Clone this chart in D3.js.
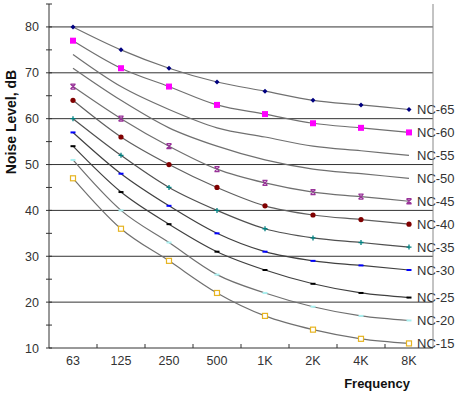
<!DOCTYPE html>
<html>
<head>
<meta charset="utf-8">
<script src="https://cdn.jsdelivr.net/npm/d3@7"></script>
<style>
  body { margin: 0; background: #fff; }
  svg { display: block; font-family: "Liberation Sans", Arial, sans-serif; }
</style>
</head>
<body>
<svg id="chart" width="465" height="396"></svg>
<script>
const frequencies = ['63', '125', '250', '500', '1K', '2K', '4K', '8K'];
const yTicks = [10, 20, 30, 40, 50, 60, 70, 80];

const nc65 = [80, 75, 71, 68, 66, 64, 63, 62];
const nc60 = [77, 71, 67, 63, 61, 59, 58, 57];
const nc55 = [74, 67, 62, 58, 56, 54, 53, 52];
const nc50 = [71, 64, 58, 54, 51, 49, 48, 47];
const nc45 = [67, 60, 54, 49, 46, 44, 43, 42];
const nc40 = [64, 56, 50, 45, 41, 39, 38, 37];
const nc35 = [60, 52, 45, 40, 36, 34, 33, 32];
const nc30 = [57, 48, 41, 35, 31, 29, 28, 27];
const nc25 = [54, 44, 37, 31, 27, 24, 22, 21];
const nc20 = [51, 40, 33, 26, 22, 19, 17, 16];
const nc15 = [47, 36, 29, 22, 17, 14, 12, 11];

// marker + line styling per curve
const curves = [
  {name: 'NC-65', values: nc65, marker: 'diamond', color: '#000080', line: '#707070'},
  {name: 'NC-60', values: nc60, marker: 'square', color: '#ff00ff', line: '#707070'},
  {name: 'NC-55', values: nc55, marker: null, color: null, line: '#707070'},
  {name: 'NC-50', values: nc50, marker: null, color: null, line: '#707070'},
  {name: 'NC-45', values: nc45, marker: 'star', color: '#993399', line: '#707070'},
  {name: 'NC-40', values: nc40, marker: 'circle', color: '#800000', line: '#606060'},
  {name: 'NC-35', values: nc35, marker: 'plus', color: '#008080', line: '#505050'},
  {name: 'NC-30', values: nc30, marker: 'dash', color: '#0000ff', line: '#404040'},
  {name: 'NC-25', values: nc25, marker: 'dash', color: '#000000', line: '#404040'},
  {name: 'NC-20', values: nc20, marker: 'dash', color: '#aaf0f0', line: '#707070'},
  {name: 'NC-15', values: nc15, marker: 'hollow', color: '#e6b422', line: '#707070'}
];

const svg = d3.select('#chart');
const margin = {left: 49, right: 433, top: 4, bottom: 348};

let x = d3.scaleBand().domain(frequencies).range([margin.left, margin.right]);
let y = d3.scaleLinear().domain([10, 85]).range([margin.bottom, margin.top]);
let cx = (f) => x(f) + x.bandwidth() / 2;

// gridlines
svg.append('g')
  .selectAll('line')
  .data(yTicks.filter(t => t > 10))
  .enter()
  .append('line')
  .attr('x1', margin.left).attr('x2', margin.right)
  .attr('y1', d => y(d)).attr('y2', d => y(d))
  .attr('stroke', '#333').attr('stroke-width', 1);

// curves
let line = d3.line()
  .x((d, i) => cx(frequencies[i]))
  .y(d => y(d))
  .curve(d3.curveMonotoneX);

let g = svg.append('g');
curves.forEach(c => {
  g.append('path')
    .attr('d', line(c.values))
    .attr('fill', 'none')
    .attr('stroke', c.line)
    .attr('stroke-width', 1.2);
});

// markers
curves.forEach(c => {
  if (!c.marker) return;
  let mg = g.append('g');
  c.values.forEach((v, i) => {
    let px = cx(frequencies[i]), py = y(v);
    if (c.marker === 'diamond') {
      mg.append('path').attr('d', `M${px},${py-2.5}L${px+2.5},${py}L${px},${py+2.5}L${px-2.5},${py}Z`).attr('fill', c.color);
    } else if (c.marker === 'square') {
      mg.append('rect').attr('x', px-3).attr('y', py-3).attr('width', 6).attr('height', 6).attr('fill', c.color);
    } else if (c.marker === 'hollow') {
      mg.append('rect').attr('x', px-2.5).attr('y', py-2.5).attr('width', 5).attr('height', 5)
        .attr('fill', '#fff').attr('stroke', c.color).attr('stroke-width', 1.2);
    } else if (c.marker === 'circle') {
      mg.append('circle').attr('cx', px).attr('cy', py).attr('r', 2.6).attr('fill', c.color);
    } else if (c.marker === 'plus') {
      mg.append('path').attr('d', `M${px-2.5},${py}H${px+2.5}M${px},${py-2.5}V${py+2.5}`).attr('stroke', c.color).attr('stroke-width', 1.3);
    } else if (c.marker === 'star') {
      mg.append('path').attr('d', `M${px-2.5},${py-2.5}L${px+2.5},${py+2.5}M${px+2.5},${py-2.5}L${px-2.5},${py+2.5}M${px-2.5},${py-2.5}H${px+2.5}M${px-2.5},${py+2.5}H${px+2.5}`)
        .attr('stroke', c.color).attr('stroke-width', 1.3);
    } else if (c.marker === 'dash') {
      mg.append('path').attr('d', `M${px-2.5},${py}H${px+2.5}`).attr('stroke', c.color).attr('stroke-width', 2);
    }
  });
});

// curve labels at right end
svg.append('g')
  .selectAll('text')
  .data(curves)
  .enter()
  .append('text')
  .attr('x', cx('8K') + 8)
  .attr('y', d => y(d.values[7]))
  .attr('dy', '0.35em')
  .attr('font-size', 13)
  .attr('fill', '#333')
  .text(d => d.name);

// right border
svg.append('line')
  .attr('x1', margin.right).attr('x2', margin.right).attr('y1', margin.top).attr('y2', margin.bottom)
  .attr('stroke', '#888');

// y axis
let yAxis = d3.axisLeft(y).tickValues(yTicks).tickSize(0).tickPadding(10);
let gy = svg.append('g').attr('transform', `translate(${margin.left},0)`).call(yAxis);
gy.select('.domain').attr('stroke', '#333').attr('d', `M0,${margin.top}V${margin.bottom}`);
gy.selectAll('text').attr('font-size', 12.5).attr('fill', '#333')
  .attr('font-family', '"Liberation Sans", Arial, sans-serif');
gy.selectAll('.tick line').remove();
// minor/major ticks crossing the axis
svg.append('g')
  .selectAll('line')
  .data(d3.range(10, 86, 5))
  .enter()
  .append('line')
  .attr('x1', margin.left - 3).attr('x2', margin.left + 3)
  .attr('y1', d => y(d)).attr('y2', d => y(d))
  .attr('stroke', '#333');

// x axis
let gx = svg.append('g').attr('transform', `translate(0,${margin.bottom})`)
  .call(d3.axisBottom(x).tickSize(0).tickPadding(8));
gx.select('.domain').attr('stroke', '#333').attr('d', `M${margin.left},0H${margin.right}`);
gx.selectAll('text').attr('font-size', 12.5).attr('fill', '#333')
  .attr('font-family', '"Liberation Sans", Arial, sans-serif');
svg.append('g')
  .selectAll('line')
  .data(frequencies.slice(1))
  .enter()
  .append('line')
  .attr('x1', d => x(d)).attr('x2', d => x(d))
  .attr('y1', margin.bottom - 4).attr('y2', margin.bottom)
  .attr('stroke', '#333');

// titles
svg.append('text')
  .attr('transform', 'translate(16,122) rotate(-90)')
  .attr('text-anchor', 'middle')
  .attr('font-size', 14)
  .attr('font-weight', 'bold')
  .attr('fill', '#111')
  .text('Noise Level, dB');

svg.append('text')
  .attr('x', 377).attr('y', 388)
  .attr('text-anchor', 'middle')
  .attr('font-size', 13)
  .attr('font-weight', 'bold')
  .attr('fill', '#111')
  .text('Frequency');
</script>
</body>
</html>
